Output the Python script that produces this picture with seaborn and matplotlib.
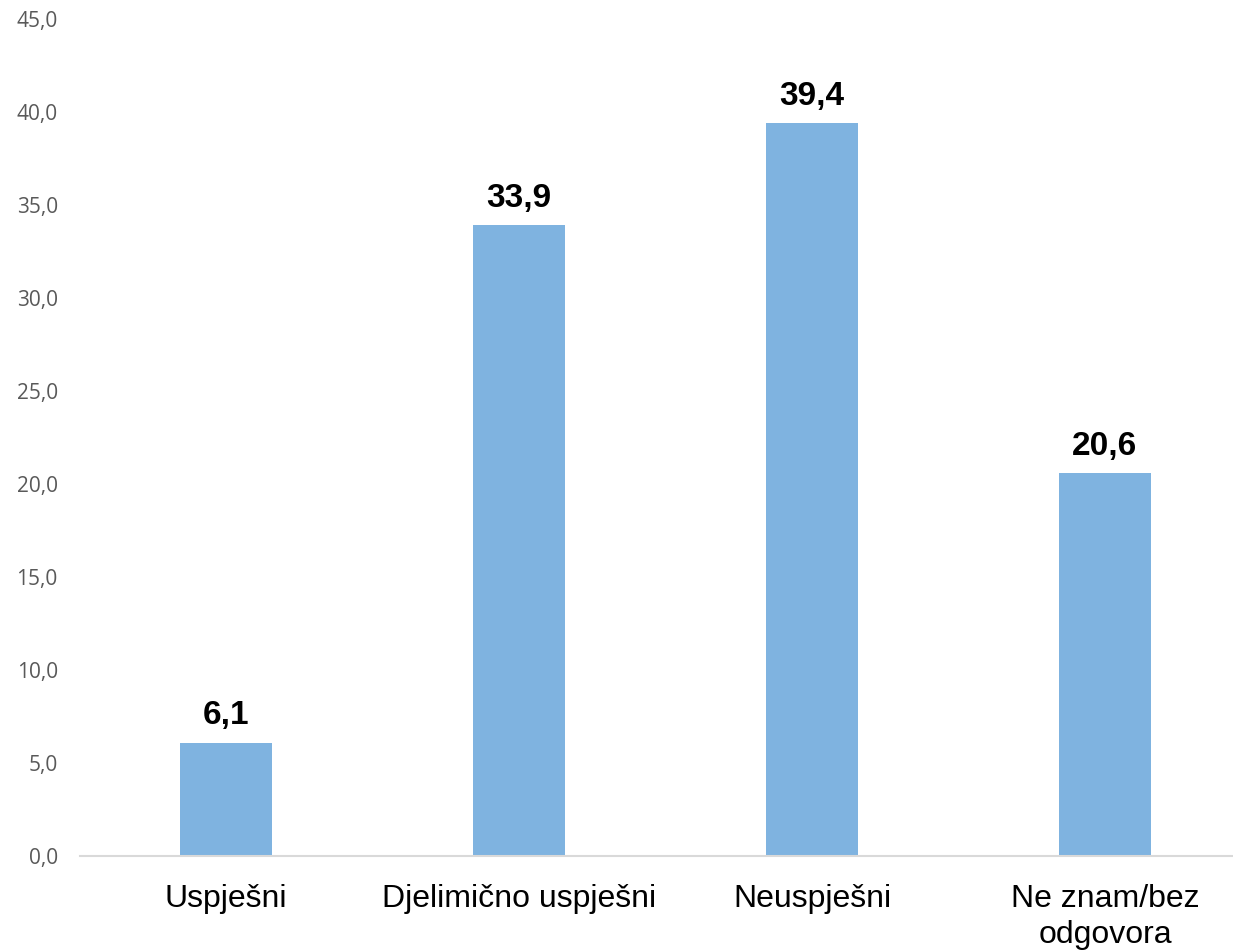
import pandas as pd
import matplotlib
matplotlib.use("Agg")
import matplotlib.pyplot as plt
import seaborn as sns

categories = ["Uspješni", "Djelimično uspješni", "Neuspješni", "Ne znam/bez\nodgovora"]
values = [6.1, 33.9, 39.4, 20.6]
y_ticks = [0, 5, 10, 15, 20, 25, 30, 35, 40, 45]

df = pd.DataFrame({"kategorija": categories, "procenat": values})

sns.set_style("white")

fig = plt.figure(figsize=(12.33, 9.5), dpi=100)
ax = fig.add_axes([80 / 1233, 94 / 950, 1 - 80 / 1233, 837 / 950])

sns.barplot(data=df, x="kategorija", y="procenat", color="#7FB3E0",
            width=0.314, saturation=1, linewidth=0, ax=ax)

ax.set_xlim(-0.498, 3.437)
ax.set_ylim(0, 45)
ax.set_yticks(y_ticks)
ax.set_yticklabels([f"{t:.1f}".replace(".", ",") for t in y_ticks],
                   family="Open Sans", fontsize=15, color="#595959")
ax.set_xticks(range(len(categories)))
ax.set_xticklabels(categories, family="Liberation Sans", fontsize=23,
                   color="black", linespacing=1.25)
ax.tick_params(axis="y", length=0, pad=16)
ax.tick_params(axis="x", length=0, pad=20)
ax.set_xlabel("")
ax.set_ylabel("")

for side in ["top", "right", "left"]:
    ax.spines[side].set_visible(False)
ax.spines["bottom"].set_color("#D9D9D9")
ax.spines["bottom"].set_linewidth(1.5)

labels = [f"{v:.1f}".replace(".", ",") for v in values]
ax.bar_label(ax.containers[0], labels=labels, padding=8, color="black",
             family="Liberation Sans", fontsize=24, fontweight="bold")

fig.savefig("out.png", dpi=100)
